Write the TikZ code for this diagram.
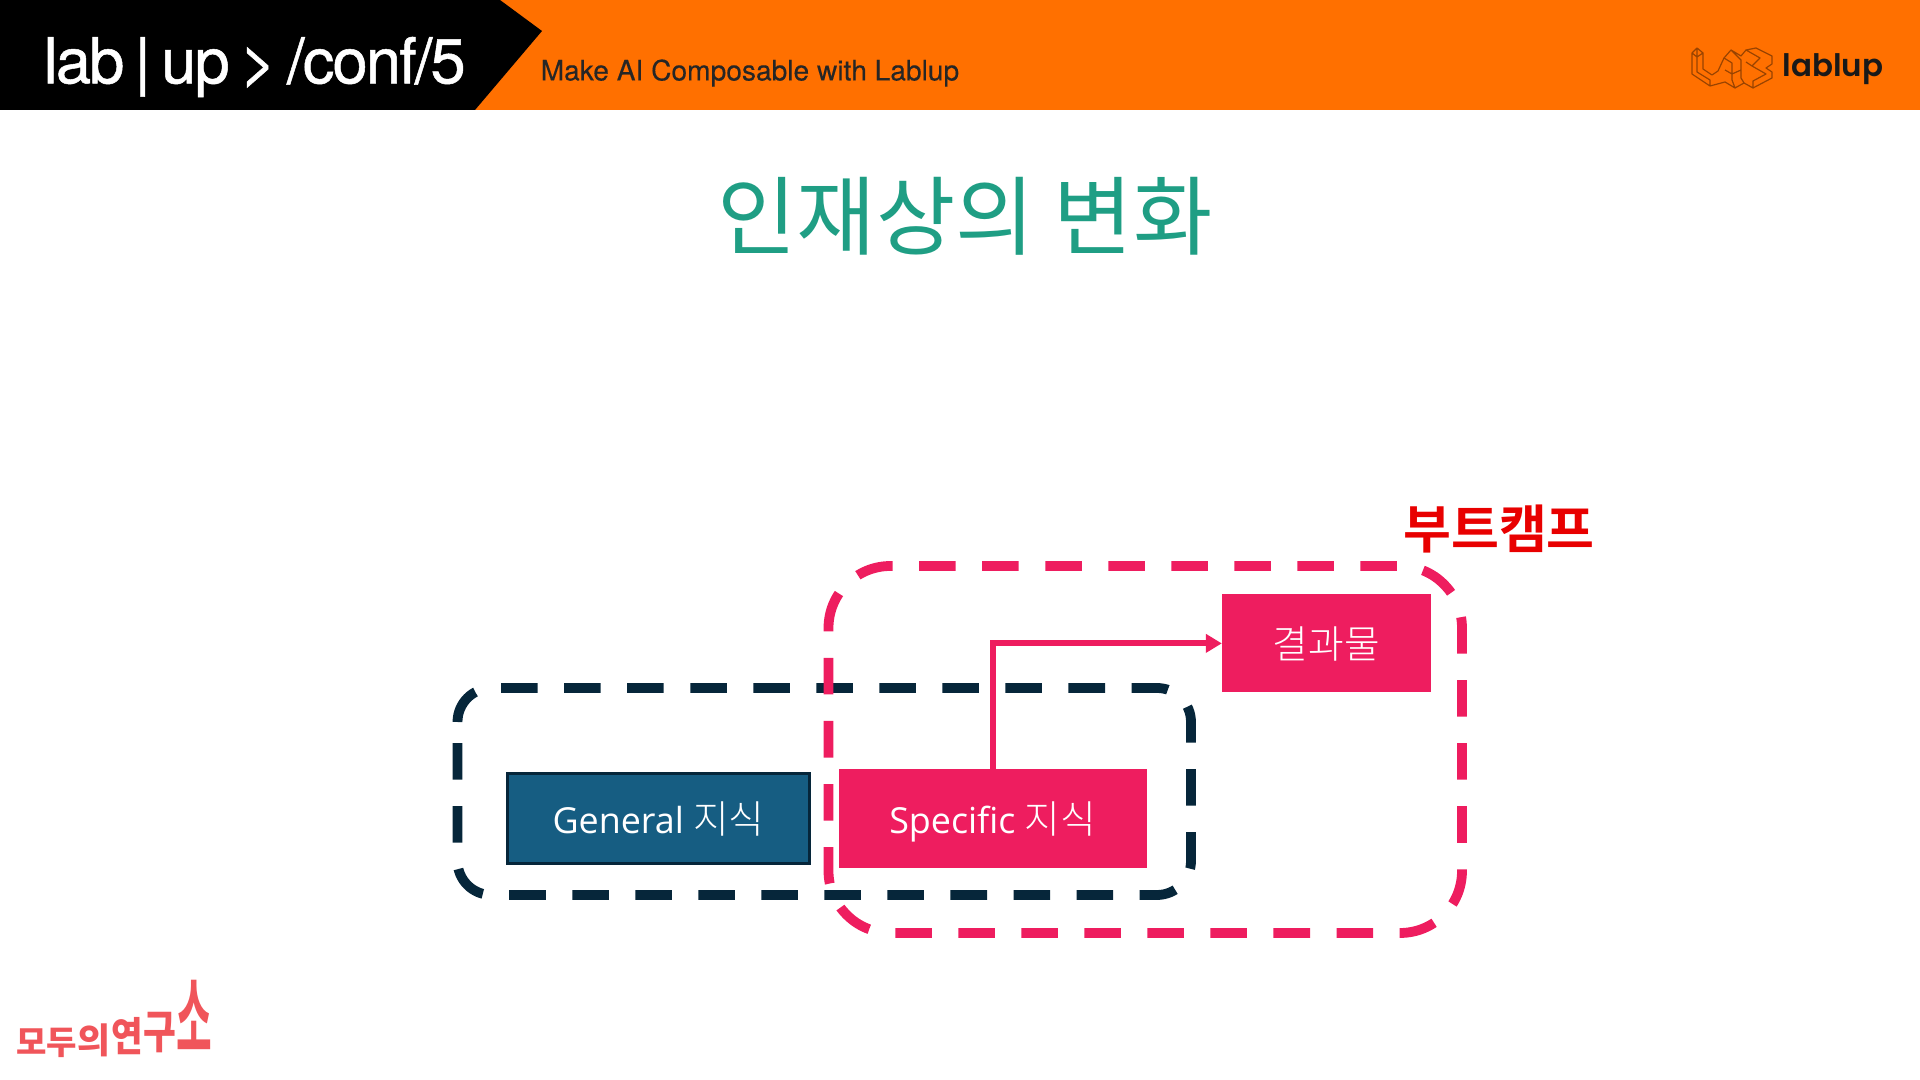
\documentclass[tikz,border=0pt]{standalone}
\usepackage{fontspec}
\setmainfont{Open Sans}
\newfontfamily\krfont{Noto Sans CJK KR}
\newfontfamily\krlight[Scale=1.08]{Noto Sans CJK KR Light}
\newfontfamily\krbold{Noto Sans CJK KR Bold}
\newfontfamily\krblack{Noto Sans CJK KR Black}
\newfontfamily\headfont[LetterSpace=-3,WordSpace=0.65,FakeBold=0.8]{TeX Gyre Heros}
\newfontfamily\sloganfont[FakeBold=0.25]{TeX Gyre Heros}
\newfontfamily\logofont{Poppins SemiBold}
\usepackage{tikz}
\usetikzlibrary{arrows.meta,positioning}
\definecolor{barorange}{HTML}{FF7000}
\definecolor{titleteal}{HTML}{1F9E84}
\definecolor{boxpink}{HTML}{EE1D5F}
\definecolor{framedark}{HTML}{06263A}
\definecolor{boxblue}{HTML}{165D82}
\definecolor{campred}{HTML}{E80000}
\definecolor{labred}{HTML}{F0555A}

\begin{document}
\begin{tikzpicture}[
    x=0.01cm, y=-0.01cm,
    box/.style={rectangle, outer sep=0pt, inner sep=0pt, text=white, align=center, text height=9.6pt, text depth=1pt, font=\fontsize{10.2}{12}\selectfont},
    generalbox/.style={box, fill=boxblue, draw=framedark, line width=0.03cm, minimum width=3.02cm, minimum height=0.9cm},
    pinkbox/.style={box, fill=boxpink, minimum width=3.08cm, minimum height=0.98cm},
    frame/.style={line width=0.098cm, dash pattern=on 0.365cm off 0.265cm},
    arrow/.style={-{Triangle[length=0.16cm,width=0.18cm]}, draw=boxpink, line width=0.06cm},
    labchar/.style={text=labred, inner sep=0pt, transform shape}
]
\useasboundingbox (0,0) rectangle (1920,1080);

% header
\fill[barorange] (0,0) rectangle (1920,110);
\fill[black] (0,0) -- (500,0) -- (542,31) -- (475,110) -- (0,110) -- cycle;
\node[text=white, font=\headfont\fontsize{18}{20}\selectfont, anchor=west, inner sep=0pt] (conf) at (43,67) {lab | up > /conf/5};
\node[text=black!85, font=\sloganfont\fontsize{8}{10}\selectfont, anchor=west, inner sep=0pt] (slogan) at (540,73) {Make AI Composable with Lablup};
\node[text=black!90, font=\logofont\fontsize{8.8}{11}\selectfont, anchor=west, inner sep=0pt] (lablup) at (1782,69) {lablup};

% logo outline
\draw[barorange!60!black, line width=0.012cm, line join=round]
  (1692,53) -- (1697,48) -- (1703,53) -- (1703,69) -- (1712,75) -- (1718,71) -- (1724,58) -- (1731,50) -- (1741,56) -- (1746,50) -- (1756,48) -- (1772,56) -- (1772,64) -- (1766,68) -- (1772,72) -- (1772,78) -- (1753,88) -- (1744,83) -- (1735,88) -- (1725,82) -- (1710,86) -- (1692,74) -- cycle
  (1697,48) -- (1697,72) -- (1710,80) -- (1710,86)
  (1692,53) -- (1697,57) -- (1703,53)
  (1724,58) -- (1732,63) -- (1732,80) -- (1735,88)
  (1731,50) -- (1741,60) -- (1741,78) -- (1744,83)
  (1725,70) -- (1732,74) -- (1741,70)
  (1746,50) -- (1760,58) -- (1752,66) -- (1766,74) -- (1753,81) -- (1753,88)
  (1756,48) -- (1772,56)
  (1746,62) -- (1752,66);

% title
\node[text=titleteal, font=\krfont\fontsize{24.5}{30}\selectfont] (title) at (965,216) {인재상의 변화};

% bootcamp label
\node[text=campred, font=\krbold\fontsize{14.8}{17}\selectfont] (camp) at (1499,529) {부트캠프};

% dashed frames
\draw[frame, draw=framedark] (457.5,722) arc[start angle=180, end angle=270, radius=34] -- (1157,688) arc[start angle=270, end angle=360, radius=34] -- (1191,861) arc[start angle=0, end angle=90, radius=34] -- (491.5,895) arc[start angle=90, end angle=180, radius=34] -- cycle;
\draw[frame, draw=boxpink] (828.5,628) arc[start angle=180, end angle=270, radius=62] -- (1400,566) arc[start angle=270, end angle=360, radius=62] -- (1462,871) arc[start angle=0, end angle=90, radius=62] -- (890.5,933) arc[start angle=90, end angle=180, radius=62] -- cycle;

% boxes
\node[generalbox] (general) at (658.5,818.5) {General {\krlight 지식}};
\node[pinkbox, right=0.29cm of general] (specific) {Specific {\krlight 지식}};
\node[pinkbox, minimum width=2.09cm, above right=0.77cm and 0.75cm of specific] (result) {\krlight 결과물};

\draw[arrow] (specific.north) |- (result.west);

% bottom logo
\node[labchar, font=\krblack\fontsize{9.4}{10}\selectfont] (modu) at (47,1043) {모두};
\node[labchar, xscale=1.02, font=\krblack\fontsize{10}{12}\selectfont] (ui) at (94,1040) {의};
\node[labchar, xscale=0.85, font=\krblack\fontsize{11.5}{12}\selectfont] (yeon) at (127,1036) {연};
\node[labchar, xscale=0.78, font=\krblack\fontsize{13}{14}\selectfont] (gu) at (159.5,1033) {구};
\node[labchar, xscale=0.92, yscale=2.15, font=\krbold\fontsize{12}{14}\selectfont] (so) at (194.5,1016) {소};
\end{tikzpicture}
\end{document}
